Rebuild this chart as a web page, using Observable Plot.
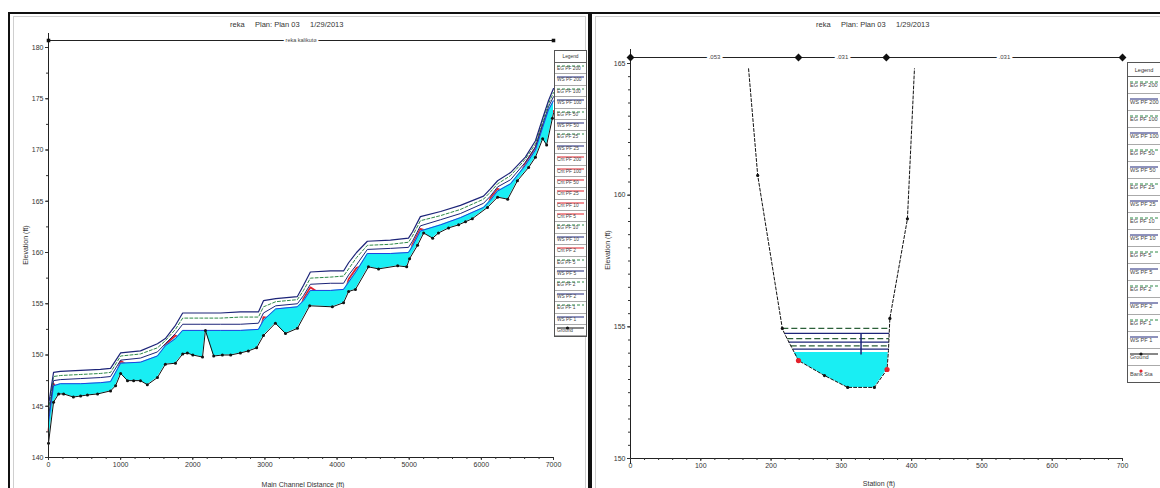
<!DOCTYPE html>
<html><head><meta charset="utf-8">
<script src="https://cdn.jsdelivr.net/npm/d3@7"></script>
<script src="https://cdn.jsdelivr.net/npm/@observablehq/plot@0.6"></script>
<style>
body{margin:0;background:#fff;font-family:"Liberation Sans",Arial,sans-serif;}
#wrap{position:relative;width:1160px;height:488px;overflow:hidden;background:#fff}
.frame{position:absolute;border:2px solid #111;box-sizing:border-box}
.inner{position:absolute;border:1px solid #cfcfcf;box-sizing:border-box}
.title{position:absolute;font-size:7.5px;color:#333;white-space:pre;line-height:1}
.lbl{position:absolute;font-size:7px;color:#333;white-space:nowrap;line-height:1}
.rot{transform:translate(-50%,-50%) rotate(-90deg)}
.legend{position:absolute;background:#fff;border:1px solid #555;box-sizing:border-box;overflow:hidden}
.legend .hd{text-align:center;color:#333;border-bottom:1px solid #666;box-sizing:border-box}
.legend .row{position:relative;border-bottom:1px solid #aaa;box-sizing:border-box;color:#444;white-space:nowrap}
.legend svg{position:absolute;left:0;top:0}
.chart{position:absolute}
</style></head><body><div id="wrap">
<div class="frame" style="left:8px;top:12px;width:582px;height:490px"></div>
<div class="inner" style="left:13px;top:16px;width:573px;height:480px"></div>
<div class="frame" style="left:590px;top:12px;width:580px;height:490px"></div>
<div class="inner" style="left:595px;top:16px;width:570px;height:480px"></div>
<div id="leftChart" class="chart" style="left:10px;top:12px"></div>
<div id="rightChart" class="chart" style="left:592px;top:12px"></div>
<div class="title" id="titleL" style="left:230px;top:21px"></div>
<div class="title" id="titleR" style="left:816px;top:21px"></div>
<div class="lbl rot" style="left:25px;top:245px">Elevation (ft)</div>
<div class="lbl rot" style="left:607px;top:250px">Elevation (ft)</div>
<div class="lbl" style="left:303px;top:481px;transform:translateX(-50%)">Main Channel Distance (ft)</div>
<div class="lbl" style="left:879px;top:480px;transform:translateX(-50%)">Station (ft)</div>
<div class="legend" id="legL" style="left:554px;top:50px;width:33px;height:287px"></div>
<div class="legend" id="legR" style="left:1127px;top:62px;width:34px;height:321px"></div>
</div>
<script>
// ---------- shared text ----------
const titleText = "reka     Plan: Plan 03     1/29/2013";
const reachLabel = "reka kalikuto";

// ---------- LEFT: longitudinal profile ----------
const xTicksL = [0, 1000, 2000, 3000, 4000, 5000, 6000, 7000];
const yTicksL = [140, 145, 150, 155, 160, 165, 170, 175, 180];

const groundSt = [0, 70, 140, 210, 345, 445, 540, 680, 860, 930, 1000, 1095, 1180, 1275, 1370, 1510, 1620, 1760, 1860, 1925, 2000, 2135, 2175, 2290, 2410, 2525, 2660, 2770, 2885, 2980, 3145, 3285, 3450, 3620, 3935, 4090, 4160, 4255, 4435, 4575, 4840, 4965, 5005, 5115, 5200, 5325, 5405, 5545, 5685, 5780, 5875, 6085, 6225, 6365, 6500, 6655, 6750, 6850, 6905, 6985, 7000];
const groundEl = [141.4, 145.4, 146.2, 146.2, 145.9, 146.0, 146.1, 146.2, 146.5, 147.0, 148.2, 147.5, 147.5, 147.5, 147.1, 147.8, 149.1, 149.2, 150.1, 150.2, 150.0, 149.8, 152.4, 149.9, 150.0, 150.0, 150.2, 150.4, 150.7, 151.9, 153.1, 152.1, 152.6, 154.8, 154.7, 155.1, 156.2, 156.4, 158.6, 158.4, 158.7, 158.6, 159.4, 160.7, 161.9, 161.4, 161.9, 162.4, 162.7, 163.0, 163.3, 164.4, 165.4, 165.2, 167.0, 168.3, 169.3, 171.1, 170.5, 173.1, 173.6];

const profSt = [0, 70, 165, 445, 720, 860, 1000, 1275, 1510, 1620, 1760, 1860, 2110, 2385, 2660, 2910, 2980, 3150, 3450, 3535, 3630, 3910, 4090, 4160, 4270, 4420, 4740, 4990, 5045, 5155, 5435, 5710, 6030, 6125, 6225, 6405, 6610, 6750, 6850, 6930, 7000];
const wsPF1 = [143.4, 147.0, 147.2, 147.2, 147.3, 147.4, 149.2, 149.3, 149.9, 150.9, 151.6, 152.4, 152.4, 152.4, 152.4, 152.5, 153.4, 154.5, 154.7, 155.3, 156.3, 156.3, 156.4, 157.1, 158.2, 159.9, 159.9, 160.0, 160.6, 162.1, 162.7, 163.4, 164.4, 165.1, 166.0, 166.7, 168.5, 170.0, 172.2, 173.9, 174.8];
const wsPF25 = [144.0, 147.5, 147.6, 147.7, 147.8, 147.9, 149.5, 149.7, 150.3, 151.1, 152.1, 153.0, 153.0, 153.0, 153.0, 153.1, 154.1, 154.8, 155.0, 155.8, 156.9, 157.0, 157.0, 157.8, 158.8, 160.3, 160.4, 160.5, 161.1, 162.6, 163.2, 163.8, 164.8, 165.5, 166.4, 167.1, 168.8, 170.3, 172.5, 174.2, 175.2];
const egPF100 = [144.6, 147.9, 148.0, 148.1, 148.2, 148.3, 149.9, 150.1, 150.7, 151.4, 152.5, 153.6, 153.6, 153.6, 153.7, 153.7, 154.7, 155.2, 155.4, 156.3, 157.5, 157.6, 157.7, 158.4, 159.5, 160.7, 160.8, 161.0, 161.6, 163.1, 163.6, 164.2, 165.2, 165.9, 166.7, 167.5, 169.1, 170.6, 172.8, 174.5, 175.6];
const egPF200 = [145.1, 148.3, 148.4, 148.5, 148.6, 148.7, 150.2, 150.4, 151.1, 151.6, 152.9, 154.1, 154.1, 154.1, 154.2, 154.2, 155.3, 155.5, 155.7, 156.8, 158.1, 158.2, 158.2, 159.0, 160.0, 161.1, 161.2, 161.4, 162.0, 163.5, 164.0, 164.6, 165.5, 166.2, 167.0, 167.8, 169.3, 170.9, 173.1, 174.8, 176.0];
const critPF = [142.6, 147.2, 146.2, 146.2, 146.3, 146.4, 149.4, 148.3, 148.9, 151.0, 151.9, 151.4, 151.4, 151.4, 151.4, 151.5, 153.7, 153.5, 153.7, 155.5, 156.6, 155.3, 155.4, 157.4, 158.5, 158.9, 158.9, 159.0, 160.8, 162.3, 161.7, 162.4, 163.4, 165.3, 166.2, 165.7, 168.7, 170.2, 172.4, 172.9, 173.8];

const legendL = ["EG PF 200","WS PF 200","EG PF 100","WS PF 100","EG PF 50","WS PF 50","EG PF 25","WS PF 25","Crit PF 200","Crit PF 100","Crit PF 50","Crit PF 25","Crit PF 10","Crit PF 5","EG PF 10","WS PF 10","Crit PF 2","EG PF 5","WS PF 5","EG PF 2","WS PF 2","EG PF 1","WS PF 1","Ground"];

// ---------- RIGHT: cross section ----------
const xTicksR = [0, 100, 200, 300, 400, 500, 600, 700];
const yTicksR = [150, 155, 160, 165];
const xsSt = [168, 181, 216, 219, 239, 276, 309, 347, 365, 367, 369, 394, 404];
const xsEl = [164.8, 160.75, 154.94, 154.75, 153.72, 153.15, 152.70, 152.70, 153.38, 154.10, 155.32, 159.10, 164.8];
const xsDot = [false, true, true, false, false, true, true, true, false, false, true, true, false];
const bankSt = [239, 365];
const bankEl = [153.72, 153.38];
const wlNames = ["EG PF 200","WS PF 200","EG PF 100","WS PF 100","EG PF 50","WS PF 50"];
const wlElev = [154.94, 154.75, 154.55, 154.42, 154.28, 154.15];
const wlLeft = [216, 219, 223, 225, 228, 231];
const wlRight = [368.4, 368.1, 367.7, 367.5, 367.3, 367.1];
const waterElev = 154.03;
const waterSt = [233, 239, 276, 309, 347, 365, 366.8];
const waterBed = [154.03, 153.72, 153.15, 152.70, 152.70, 153.38, 154.03];
const dividerSt = 328;
const dividerLo = 153.95, dividerHi = 154.75;
const nBounds = [0, 239, 364, 700];
const nValues = [".053", ".031", ".031"];
const legendR = ["EG PF 200","WS PF 200","EG PF 100","WS PF 100","EG PF 50","WS PF 50","EG PF 25","WS PF 25","EG PF 10","WS PF 10","EG PF 5","WS PF 5","EG PF 2","WS PF 2","EG PF 1","WS PF 1","Ground","Bank Sta"];

// ---------- colours ----------
const CYAN = "#19eef3", NAVY = "#1c2478", BLUE = "#2242e0", GREEN = "#2f8a48", RED = "#e3202b";

document.getElementById("titleL").textContent = titleText;
document.getElementById("titleR").textContent = titleText;

const axisStyle = {fontSize: 7, fill: "#333"};
const font = {background: "transparent", overflow: "visible", fontFamily: "Liberation Sans, Arial, sans-serif", color: "#333"};

// left chart
const prof = profSt.map((s, i) => ({s, ws1: wsPF1[i], ws25: wsPF25[i], eg100: egPF100[i], eg200: egPF200[i], crit: critPF[i]}));
const ground = groundSt.map((s, i) => ({s, e: groundEl[i]}));
const groundDots = ground.slice(0, ground.length - 1);
const reach = [{from: 0, to: 7000, label: reachLabel}];

const left = Plot.plot({
  width: 578, height: 476,
  marginLeft: 38, marginRight: 35, marginTop: 35, marginBottom: 31,
  x: {domain: [0, 7000]},
  y: {domain: [140, 180]},
  style: font,
  marks: [
    Plot.line(prof, {x: "s", y: "crit", stroke: RED, strokeWidth: 1.8}),
    Plot.areaY(prof, {x: "s", y1: () => 140, y2: "ws1", fill: CYAN}),
    Plot.areaY(ground, {x: "s", y1: () => 140, y2: "e", fill: "white"}),
    Plot.line(prof, {x: "s", y: "ws1", stroke: BLUE, strokeWidth: 1}),
    Plot.line(prof, {x: "s", y: "ws25", stroke: NAVY, strokeWidth: 1}),
    Plot.line(prof, {x: "s", y: "eg100", stroke: GREEN, strokeWidth: 1, strokeDasharray: "3,2"}),
    Plot.line(prof, {x: "s", y: "eg200", stroke: NAVY, strokeWidth: 1.2}),
    Plot.line(ground, {x: "s", y: "e", stroke: "#111", strokeWidth: 1}),
    Plot.dot(groundDots, {x: "s", y: "e", r: 1.5, fill: "#111"}),
    Plot.ruleX([0], {stroke: "#222", insetTop: -14}),
    Plot.ruleY([140], {stroke: "#222"}),
    Plot.link(reach, {x1: "from", x2: "to", y1: () => 180, y2: () => 180, dy: -7, stroke: "#222"}),
    Plot.dot([0, 7000], {x: d => d, y: () => 180, dy: -7, symbol: "square", r: 2, fill: "#111"}),
    Plot.text(reach, {x: d => (d.from + d.to) / 2, y: () => 180, dy: -7, text: "label", fontSize: 5.5, fill: "#444", stroke: "white", strokeWidth: 4}),
    Plot.axisX({ticks: xTicksL, tickSize: 3, tickPadding: 2, label: null, tickFormat: d => String(d), ...axisStyle}),
    Plot.axisX({ticks: d3.range(0, 7001, 200), tickSize: 2, label: null, tickFormat: () => ""}),
    Plot.axisY({ticks: yTicksL, tickSize: 3, tickPadding: 2, label: null, tickFormat: d => String(d), ...axisStyle}),
    Plot.axisY({ticks: d3.range(140, 180.1, 2.5), tickSize: 2, label: null, tickFormat: () => ""})
  ]
});
document.getElementById("leftChart").append(left);

// right chart
const xs = xsSt.map((s, i) => ({s, e: xsEl[i], dot: xsDot[i]}));
const banks = bankSt.map((s, i) => ({s, e: bankEl[i]}));
const wl = wlNames.map((n, i) => ({n, e: wlElev[i], a: wlLeft[i], b: wlRight[i], eg: n.startsWith("EG")}));
const water = waterSt.map((s, i) => ({s, bed: waterBed[i]}));
const nSeg = nValues.map((v, i) => ({a: nBounds[i], b: nBounds[i + 1], v}));

const right = Plot.plot({
  width: 568, height: 476,
  marginLeft: 38, marginRight: 38, marginTop: 51, marginBottom: 30,
  x: {domain: [0, 700]},
  y: {domain: [150, 165]},
  style: font,
  marks: [
    Plot.areaY(water, {x: "s", y1: "bed", y2: () => waterElev, fill: CYAN}),
    Plot.link(wl.filter(d => !d.eg), {x1: "a", x2: "b", y1: "e", y2: "e", stroke: NAVY, strokeWidth: 1.3}),
    Plot.link(wl.filter(d => d.eg), {x1: "a", x2: "b", y1: "e", y2: "e", stroke: "#2b5f38", strokeWidth: 1.3, strokeDasharray: "6,3"}),
    Plot.link([{s: dividerSt, lo: dividerLo, hi: dividerHi}], {x1: "s", x2: "s", y1: "lo", y2: "hi", stroke: NAVY, strokeWidth: 1.5}),
    Plot.line(xs, {x: "s", y: "e", stroke: "#111", strokeWidth: 1, strokeDasharray: "3,2"}),
    Plot.dot(xs.filter(d => d.dot), {x: "s", y: "e", r: 1.6, fill: "#111"}),
    Plot.dot(banks, {x: "s", y: "e", r: 2.6, fill: RED}),
    Plot.ruleX([0], {stroke: "#222", insetTop: -14, insetBottom: -6}),
    Plot.ruleY([150], {stroke: "#222"}),
    Plot.link(nSeg, {x1: "a", x2: "b", y1: () => 165, y2: () => 165, dy: -6, stroke: "#222"}),
    Plot.dot(nBounds, {x: d => d, y: () => 165, dy: -6, symbol: "diamond2", r: 2.6, fill: "#111", stroke: "#111"}),
    Plot.text(nSeg, {x: d => (d.a + d.b) / 2, y: () => 165, dy: -6, text: "v", fontSize: 6, fill: "#444", stroke: "white", strokeWidth: 5}),
    Plot.axisX({ticks: xTicksR, tickSize: 3, tickPadding: 2, label: null, tickFormat: d => String(d), ...axisStyle}),
    Plot.axisX({ticks: d3.range(0, 701, 20), tickSize: 2, label: null, tickFormat: () => ""}),
    Plot.axisY({ticks: yTicksR, tickSize: 3, tickPadding: 2, label: null, tickFormat: d => String(d), ...axisStyle}),
    Plot.axisY({ticks: d3.range(150, 165.01, 0.5), tickSize: 2, label: null, tickFormat: () => ""})
  ]
});
document.getElementById("rightChart").append(right);

// legends
function sampleStyle(name) {
  if (name === "Ground") return {c: "#111", dash: "", dot: "#111"};
  if (name === "Bank Sta") return {c: "none", dash: "", dot: RED};
  if (name.startsWith("Crit")) return {c: RED, dash: "", dot: null};
  if (name.startsWith("EG")) return {c: GREEN, dash: "3,2", dot: null};
  return {c: NAVY, dash: "", dot: null};
}
function buildLegend(id, names, headH, rowH, fs, w) {
  const el = document.getElementById(id);
  const hd = document.createElement("div");
  hd.className = "hd";
  hd.style.height = headH + "px"; hd.style.fontSize = fs + "px"; hd.style.lineHeight = headH + "px";
  hd.textContent = "Legend";
  el.append(hd);
  names.forEach(n => {
    const r = document.createElement("div");
    r.className = "row";
    r.style.height = rowH + "px"; r.style.fontSize = fs + "px";
    const st = sampleStyle(n);
    const ly = Math.round(rowH * 0.3);
    let svg = `<svg width="${w}" height="${rowH}">`;
    if (st.c !== "none") svg += `<line x1="2" x2="${w - 4}" y1="${ly}" y2="${ly}" stroke="${st.c}" stroke-width="1" ${st.dash ? `stroke-dasharray="${st.dash}"` : ""}/>`;
    if (st.dot) svg += `<circle cx="${w / 2 - 4}" cy="${ly}" r="1.6" fill="${st.dot}"/>`;
    svg += `</svg>`;
    r.innerHTML = svg + `<span style="position:absolute;left:2px;top:${ly + 1}px;line-height:1">${n}</span>`;
    el.append(r);
  });
}
buildLegend("legL", legendL, 12, 11.4, 4.8, 33);
buildLegend("legR", legendR, 14, 17, 5.6, 34);
</script>
</body></html>
